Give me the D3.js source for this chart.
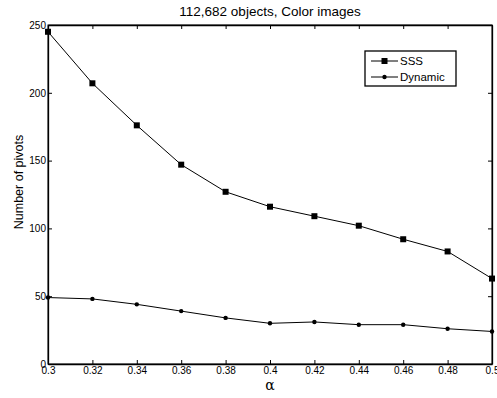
<!DOCTYPE html>
<html>
<head>
<meta charset="utf-8">
<script src="https://cdn.jsdelivr.net/npm/d3@7.9.0/dist/d3.min.js"></script>
<style>
  body { margin: 0; background: #fff; }
  svg { font-family: "Liberation Sans", Arial, sans-serif; }
</style>
</head>
<body>
<svg id="chart" width="497" height="398"></svg>
<script>
const alphas = [0.3, 0.32, 0.34, 0.36, 0.38, 0.4, 0.42, 0.44, 0.46, 0.48, 0.5];
const sss = [245, 207, 176, 147, 127, 116, 109, 102, 92, 83, 63];
const dynamic = [49, 48, 44, 39, 34, 30, 31, 29, 29, 26, 24];
const xTicks = [0.3, 0.32, 0.34, 0.36, 0.38, 0.4, 0.42, 0.44, 0.46, 0.48, 0.5];
const yTicks = [0, 50, 100, 150, 200, 250];

const margin = { left: 48, right: 5, top: 25, bottom: 34 };
const width = 497, height = 398;

const svg = d3.select('#chart');

const x = d3.scaleLinear().domain([0.3, 0.5]).range([margin.left, width - margin.right]);
const y = d3.scaleLinear().domain([0, 250]).range([height - margin.bottom, margin.top]);

const tickLen = 4;

// box
svg.append('rect')
  .attr('x', x(0.3)).attr('y', y(250))
  .attr('width', x(0.5) - x(0.3)).attr('height', y(0) - y(250))
  .attr('fill', 'none').attr('stroke', '#000').attr('stroke-width', 1);

// axes with inward ticks
const bottomAxis = svg.append('g').attr('transform', `translate(0,${y(0)})`)
  .call(d3.axisBottom(x).tickValues(xTicks).tickSizeInner(-tickLen).tickSizeOuter(0).tickPadding(4).tickFormat(d => String(+d.toFixed(2))));
const topAxis = svg.append('g').attr('transform', `translate(0,${y(250)})`)
  .call(d3.axisTop(x).tickValues(xTicks).tickSizeInner(-tickLen).tickSizeOuter(0).tickFormat(''));
const leftAxis = svg.append('g').attr('transform', `translate(${x(0.3)},0)`)
  .call(d3.axisLeft(y).tickValues(yTicks).tickSizeInner(-tickLen).tickSizeOuter(0).tickPadding(6));
const rightAxis = svg.append('g').attr('transform', `translate(${x(0.5)},0)`)
  .call(d3.axisRight(y).tickValues(yTicks).tickSizeInner(-tickLen).tickSizeOuter(0).tickFormat(''));

[bottomAxis, topAxis, leftAxis, rightAxis].forEach(g => {
  g.select('.domain').attr('stroke', '#000').attr('stroke-width', 1.3);
  g.selectAll('.tick line').attr('stroke', '#000');
  g.selectAll('text').attr('font-size', 10).attr('fill', '#000').attr('font-family', '"Liberation Sans", Arial, sans-serif');
});
bottomAxis.selectAll('text').attr('dy', '0.6em');
leftAxis.selectAll('text').attr('dx', '4px');

const line = d3.line().x((d, i) => x(alphas[i])).y(d => y(d));

svg.append('path').datum(sss).attr('d', line)
  .attr('fill', 'none').attr('stroke', '#000').attr('stroke-width', 1);
svg.append('path').datum(dynamic).attr('d', line)
  .attr('fill', 'none').attr('stroke', '#000').attr('stroke-width', 1);

svg.selectAll('.sq').data(sss).enter().append('rect')
  .attr('x', (d, i) => x(alphas[i]) - 3).attr('y', d => y(d) - 3)
  .attr('width', 6).attr('height', 6).attr('fill', '#000');
svg.selectAll('.dot').data(dynamic).enter().append('circle')
  .attr('cx', (d, i) => x(alphas[i])).attr('cy', d => y(d))
  .attr('r', 2.2).attr('fill', '#000');

// title and labels
svg.append('text').attr('x', 270).attr('y', 16).attr('text-anchor', 'middle')
  .attr('font-size', 13.5).text('112,682 objects, Color images');
svg.append('text').attr('transform', `translate(23,182) rotate(-90)`)
  .attr('text-anchor', 'middle').attr('font-size', 12.5).text('Number of pivots');
svg.append('text').attr('x', 270).attr('y', 390).attr('text-anchor', 'middle')
  .attr('font-size', 14).attr('font-family', '"DejaVu Serif", serif').text('α');

// legend
const lg = svg.append('g').attr('transform', 'translate(365,51)');
lg.append('rect').attr('width', 91).attr('height', 35)
  .attr('fill', '#fff').attr('stroke', '#000').attr('stroke-width', 1.3);
const items = [{ name: 'SSS', sym: 'sq' }, { name: 'Dynamic', sym: 'dot' }];
items.forEach((it, i) => {
  const cy = 10 + i * 16;
  lg.append('line').attr('x1', 6).attr('x2', 33).attr('y1', cy).attr('y2', cy).attr('stroke', '#000');
  if (it.sym === 'sq') {
    lg.append('rect').attr('x', 16.5).attr('y', cy - 3).attr('width', 6).attr('height', 6).attr('fill', '#000');
  } else {
    lg.append('circle').attr('cx', 19.5).attr('cy', cy).attr('r', 2.2).attr('fill', '#000');
  }
  lg.append('text').attr('x', 35).attr('y', cy + 4).attr('font-size', 11.5).text(it.name);
});
</script>
</body>
</html>
